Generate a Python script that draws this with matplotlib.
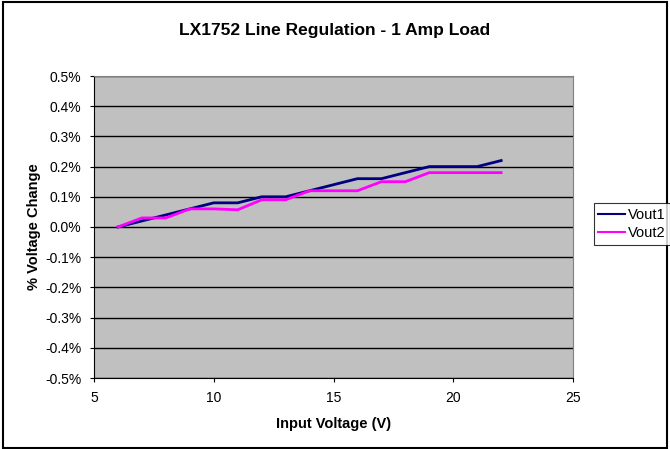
import matplotlib
matplotlib.use("Agg")
import matplotlib.pyplot as plt
from matplotlib.patches import Rectangle
from matplotlib.ticker import FuncFormatter

plt.rcParams['font.family'] = ['Liberation Sans', 'DejaVu Sans']

# Data
vin = [6, 7, 8, 9, 10, 11, 12, 13, 14, 15, 16, 17, 18, 19, 20, 21, 22]
vout1 = [0.0, 0.02, 0.04, 0.06, 0.08, 0.08, 0.10, 0.10, 0.12, 0.14, 0.16, 0.16, 0.18, 0.20, 0.20, 0.20, 0.22]
vout2 = [0.0, 0.03, 0.03, 0.06, 0.06, 0.057, 0.09, 0.09, 0.12, 0.12, 0.12, 0.15, 0.15, 0.18, 0.18, 0.18, 0.18]

fig = plt.figure(figsize=(6.7, 4.49), dpi=100)
ax = fig.add_axes([94 / 670, 1 - 378 / 449, (573 - 94) / 670, (378 - 76) / 449])

ax.set_facecolor('#C0C0C0')
ax.plot(vin, vout1, color='#000080', lw=2, label='Vout1')
ax.plot(vin, vout2, color='#FF00FF', lw=2, label='Vout2')

ax.set_xlim(5, 25)
ax.set_ylim(-0.5, 0.5)
ax.set_xticks([5, 10, 15, 20, 25])
ax.set_yticks([x / 10 for x in range(-5, 6)])
ax.yaxis.set_major_formatter(FuncFormatter(lambda v, p: f"{v:.1f}%"))
ax.grid(True, axis='y', color='black', lw=1)
ax.set_axisbelow(True)
ax.tick_params(labelsize=10, length=3, direction='out', pad=6)

for s in ['top', 'right']:
    ax.spines[s].set_color('#808080')
for s in ['left', 'bottom']:
    ax.spines[s].set_color('black')

ax.set_xlabel('Input Voltage (V)', fontsize=10.5, fontweight='bold', labelpad=9)
ax.set_ylabel('% Voltage Change', fontsize=10.5, fontweight='bold', labelpad=3)
fig.text(0.5, 1 - 30 / 449, 'LX1752 Line Regulation - 1 Amp Load',
         ha='center', va='center', fontsize=12.5, fontweight='bold')

leg = fig.legend(loc='center left', bbox_to_anchor=(594 / 670, 1 - 224 / 449),
                 fontsize=10.5, frameon=True, fancybox=False, handlelength=1.85,
                 handletextpad=0.2, borderpad=0.3, labelspacing=0.3,
                 borderaxespad=0)
leg.get_frame().set_edgecolor('black')
leg.get_frame().set_linewidth(0.8)
for line in leg.get_lines():
    line.set_linewidth(1.5)

fig.patches.append(Rectangle((0.004, 0.003), 0.992, 0.993, transform=fig.transFigure,
                             fill=False, edgecolor='black', lw=1.5))

fig.savefig('out.png', dpi=100)
